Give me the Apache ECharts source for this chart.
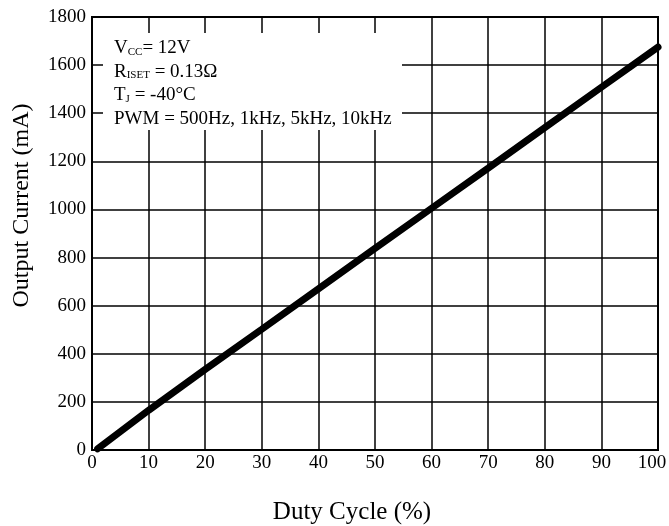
<!DOCTYPE html>
<html><head><meta charset="utf-8">
<script src="https://cdn.jsdelivr.net/npm/echarts@6/dist/echarts.min.js"></script>
<style>html,body{margin:0;padding:0;background:#fff}#c{width:669px;height:526px}</style>
</head><body><div id="c"></div>
<script>
var dutyCycle = [1, 10, 20, 30, 40, 50, 60, 70, 80, 90, 100];
var outputCurrent = [5, 165, 335, 502, 670, 838, 1005, 1172, 1340, 1508, 1675];
var xTicks = [0, 10, 20, 30, 40, 50, 60, 70, 80, 90, 100];
var yTicks = [0, 200, 400, 600, 800, 1000, 1200, 1400, 1600, 1800];

var F = '"Liberation Serif", "Times New Roman", serif';
var chart = echarts.init(document.getElementById('c'));
chart.setOption({
  backgroundColor: '#fff',
  animation: false,
  grid: {left: 92, right: 11, top: 17, bottom: 76, show: true, borderColor: '#000', borderWidth: 2,
    containLabel: false, outerBoundsMode: 'none'},
  xAxis: {
    type: 'value', min: 0, max: 100, interval: 10,
    name: 'Duty Cycle (%)', nameLocation: 'middle', nameGap: 50,
    nameTextStyle: {fontFamily: F, fontSize: 25, color: '#000', padding: [0, 46, 0, 0]},
    axisLine: {show: true, lineStyle: {color: '#000', width: 2}},
    axisTick: {show: false},
    axisLabel: {fontFamily: F, fontSize: 19, color: '#000', margin: 4,
      formatter: function (v) {
        if (xTicks.indexOf(v) < 0) return '';
        return v === xTicks[xTicks.length - 1] ? '{m|' + v + '}' : String(v);
      },
      rich: {m: {fontFamily: F, fontSize: 19, color: '#000', padding: [0, 12, 0, 0]}}
    },
    splitLine: {show: true, lineStyle: {color: '#000', width: 1.5}}
  },
  yAxis: {
    type: 'value', min: 0, max: 1800, interval: 200,
    name: 'Output Current (mA)', nameLocation: 'middle', nameGap: 58,
    nameTextStyle: {fontFamily: F, fontSize: 24, color: '#000', padding: [0, 0, 0, 56]},
    axisLine: {show: true, lineStyle: {color: '#000', width: 2}},
    axisTick: {show: false},
    axisLabel: {fontFamily: F, fontSize: 19, color: '#000', margin: 6,
      formatter: function (v) { return yTicks.indexOf(v) >= 0 ? String(v) : ''; }},
    splitLine: {show: true, lineStyle: {color: '#000', width: 1.5}}
  },
  series: [{
    type: 'line',
    data: dutyCycle.map(function (d, i) { return [d, outputCurrent[i]]; }),
    showSymbol: false,
    lineStyle: {color: '#000', width: 7, cap: 'round'},
    z: 5
  }],
  graphic: [
    {type: 'rect', z: 100, shape: {x: 103, y: 33, width: 299, height: 97}, style: {fill: '#fff'}},
    {type: 'text', z: 101, left: 114, top: 39,
      style: {
        text: '{n|V}{s|CC}{n|= 12V}\n{n|R}{s|ISET}{n| = 0.13Ω}\n{n|T}{s|J}{n| = -40°C}\n{n|PWM = 500Hz, 1kHz, 5kHz, 10kHz}',
        fill: '#000',
        rich: {
          n: {fontFamily: F, fontSize: 19, lineHeight: 23.5, fill: '#000'},
          s: {fontFamily: F, fontSize: 11, lineHeight: 23.5, fill: '#000', padding: [7, 0, 0, 0]}
        }
      }
    }
  ]
});
</script></body></html>
